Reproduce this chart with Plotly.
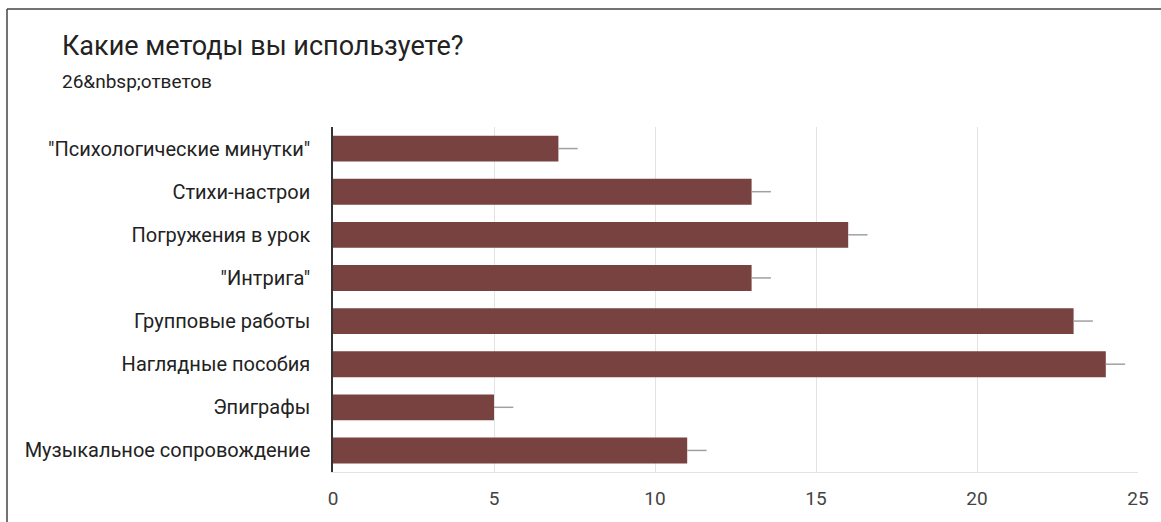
import plotly.graph_objects as go

categories = ['"Психологические минутки"', "Стихи-настрои", "Погружения в урок", '"Интрига"',
              "Групповые работы", "Наглядные пособия", "Эпиграфы", "Музыкальное сопровождение"]
values = [7, 13, 16, 13, 23, 24, 5, 11]
errors = [0.6, 0.6, 0.6, 0.6, 0.6, 0.6, 0.6, 0.6]
x_ticks = [0, 5, 10, 15, 20, 25]

W, H = 1161, 522
L, R, T, B = 333, 23, 127, 47
pw, ph = W - L - R, H - T - B

def px(xp):
    return (xp - L) / pw

def py(yp):
    return (H - B - yp) / ph

fig = go.Figure(go.Bar(
    y=categories, x=values, orientation="h",
    marker=dict(color="#77423F", line=dict(width=0)),
    error_x=dict(type="data", array=errors, arrayminus=[0] * len(errors),
                 color="#a0a0a0", thickness=1.5, width=0),
    width=0.6,
))

fig.update_layout(
    width=W, height=H,
    margin=dict(l=L, r=R, t=T, b=B),
    paper_bgcolor="white", plot_bgcolor="white",
    font=dict(family="Roboto, Arial, sans-serif", color="#222"),
    showlegend=False,
    xaxis=dict(range=[0, 25], tickvals=x_ticks, showgrid=True, gridcolor="#e3e3e3",
               zeroline=False, showline=True, linecolor="#e3e3e3",
               tickfont=dict(size=19, color="#444"), ticks="", ticklabelstandoff=9),
    yaxis=dict(autorange="reversed", showline=True, linecolor="#333", linewidth=1.5,
               showgrid=False, tickfont=dict(size=20, color="#222"), ticks="",
               ticklabelstandoff=17),
    shapes=[
        dict(type="line", xref="paper", yref="paper", x0=px(7), x1=px(7), y0=py(8), y1=py(530),
             line=dict(color="#444", width=1.5)),
        dict(type="line", xref="paper", yref="paper", x0=px(7), x1=px(1170), y0=py(8), y1=py(8),
             line=dict(color="#444", width=1.5)),
    ],
    annotations=[
        dict(text="Какие методы вы используете?", xref="paper", yref="paper",
             x=px(60), y=py(45), xanchor="left", yanchor="middle", showarrow=False,
             font=dict(size=27, color="#222")),
        dict(text="26&amp;nbsp;ответов", xref="paper", yref="paper",
             x=px(60), y=py(81), xanchor="left", yanchor="middle", showarrow=False,
             font=dict(size=19, color="#222")),
    ],
)

fig.write_html("out.html", config={"displayModeBar": False},
               post_script="document.body.style.margin='0';document.body.style.overflow='hidden';")
